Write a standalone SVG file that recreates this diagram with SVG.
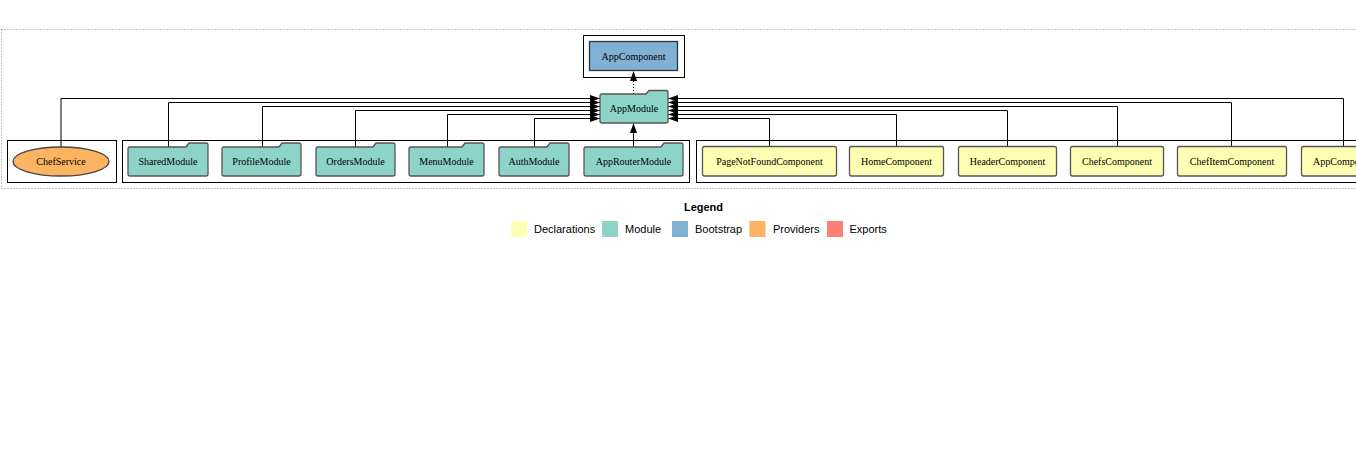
<svg xmlns="http://www.w3.org/2000/svg" width="1356" height="461" viewBox="0 0 1356 461">
<defs>
<style>
.lbl{font-family:"Liberation Serif","Times New Roman",serif;font-size:10px;fill:#000;text-anchor:middle}
.leg{font-family:"Liberation Sans",Arial,sans-serif;font-size:11px;fill:#000}
.cl{fill:none;stroke:#000;stroke-width:1}
.mod{fill:#8dd3c7;stroke:#555;stroke-width:1.3}
.dec{fill:#ffffb3;stroke:#555;stroke-width:1.3}
.edge{fill:none;stroke:#000;stroke-width:1}
</style>
<marker id="arr" markerUnits="userSpaceOnUse" markerWidth="10" markerHeight="7" refX="10" refY="3.5" orient="auto">
<path d="M0,0 L10,3.5 L0,7 Z" fill="#000"/>
</marker>
</defs>
<rect width="1356" height="461" fill="#fff"/>
<rect x="1.5" y="29.5" width="1400" height="159" fill="none" stroke="#888" stroke-width="1" stroke-dasharray="1,2"/>

<g id="clusters">
<rect class="cl" x="7.5" y="140.5" width="109" height="42"/>
<rect class="cl" x="122.5" y="140.5" width="567" height="42"/>
<rect class="cl" x="696.5" y="140.5" width="680" height="42"/>
<rect class="cl" x="583.5" y="35.5" width="101" height="42"/>
</g>

<g id="connectors">
<polyline class="edge" points="61,147 61,98.5 600,98.5" marker-end="url(#arr)"/>
<polyline class="edge" points="168.5,147 168.5,102.5 600,102.5" marker-end="url(#arr)"/>
<polyline class="edge" points="262.5,147 262.5,106.5 600,106.5" marker-end="url(#arr)"/>
<polyline class="edge" points="355.5,147 355.5,110.5 600,110.5" marker-end="url(#arr)"/>
<polyline class="edge" points="447.5,147 447.5,114.5 600,114.5" marker-end="url(#arr)"/>
<polyline class="edge" points="534.5,147 534.5,118.5 600,118.5" marker-end="url(#arr)"/>
<polyline class="edge" points="633.5,147 633.5,123" marker-end="url(#arr)"/>
<polyline class="edge" points="769.5,146 769.5,118.5 668,118.5" marker-end="url(#arr)"/>
<polyline class="edge" points="896.5,146 896.5,114.5 668,114.5" marker-end="url(#arr)"/>
<polyline class="edge" points="1007.5,146 1007.5,110.5 668,110.5" marker-end="url(#arr)"/>
<polyline class="edge" points="1117.5,146 1117.5,106.5 668,106.5" marker-end="url(#arr)"/>
<polyline class="edge" points="1231.5,146 1231.5,102.5 668,102.5" marker-end="url(#arr)"/>
<polyline class="edge" points="1343.5,146 1343.5,98.5 668,98.5" marker-end="url(#arr)"/>
<polyline class="edge" points="633.5,94 633.5,71" stroke-dasharray="1,2" stroke="#999" marker-end="url(#arr)"/>
</g>

<g id="ChefService">
<ellipse cx="61" cy="161.5" rx="48" ry="14.5" fill="#fdb462" stroke="#444" stroke-width="1.3"/>
<text class="lbl" x="61" y="165">ChefService</text>
</g>

<g id="SharedModule">
<path class="mod" d="M128,149 Q128,147 130,147 L186,147 L189,143 L206,143 Q208,143 208,145 L208,174 Q208,176 206,176 L130,176 Q128,176 128,174 Z"/>
<text class="lbl" x="168" y="165">SharedModule</text>
</g>
<g id="ProfileModule">
<path class="mod" d="M222,149 Q222,147 224,147 L279,147 L282,143 L299,143 Q301,143 301,145 L301,174 Q301,176 299,176 L224,176 Q222,176 222,174 Z"/>
<text class="lbl" x="261.5" y="165">ProfileModule</text>
</g>
<g id="OrdersModule">
<path class="mod" d="M316,149 Q316,147 318,147 L373,147 L376,143 L393,143 Q395,143 395,145 L395,174 Q395,176 393,176 L318,176 Q316,176 316,174 Z"/>
<text class="lbl" x="355.5" y="165">OrdersModule</text>
</g>
<g id="MenuModule">
<path class="mod" d="M409,149 Q409,147 411,147 L462,147 L465,143 L482,143 Q484,143 484,145 L484,174 Q484,176 482,176 L411,176 Q409,176 409,174 Z"/>
<text class="lbl" x="446.5" y="165">MenuModule</text>
</g>
<g id="AuthModule">
<path class="mod" d="M499,149 Q499,147 501,147 L547,147 L550,143 L567,143 Q569,143 569,145 L569,174 Q569,176 567,176 L501,176 Q499,176 499,174 Z"/>
<text class="lbl" x="534" y="165">AuthModule</text>
</g>
<g id="AppRouterModule">
<path class="mod" d="M584,149 Q584,147 586,147 L661,147 L664,143 L681,143 Q683,143 683,145 L683,174 Q683,176 681,176 L586,176 Q584,176 584,174 Z"/>
<text class="lbl" x="633.5" y="165">AppRouterModule</text>
</g>

<g id="AppModule">
<path class="mod" d="M600,96 Q600,94 602,94 L646,94 L649,90.5 L666,90.5 Q668,90.5 668,92.5 L668,121 Q668,123 666,123 L602,123 Q600,123 600,121 Z"/>
<text class="lbl" x="634" y="112">AppModule</text>
</g>

<g id="AppComponentBootstrap">
<rect x="589.5" y="41.5" width="88" height="29" fill="#80b1d3" stroke="#333" stroke-width="1.3"/>
<text class="lbl" x="633.5" y="59.5">AppComponent</text>
</g>

<g id="PageNotFoundComponent">
<rect class="dec" x="702.5" y="146.5" width="134" height="29.5" rx="2"/>
<text class="lbl" x="769.5" y="165">PageNotFoundComponent</text>
</g>
<g id="HomeComponent">
<rect class="dec" x="849.5" y="146.5" width="94" height="29.5" rx="2"/>
<text class="lbl" x="896.5" y="165">HomeComponent</text>
</g>
<g id="HeaderComponent">
<rect class="dec" x="958.5" y="146.5" width="98" height="29.5" rx="2"/>
<text class="lbl" x="1007.5" y="165">HeaderComponent</text>
</g>
<g id="ChefsComponent">
<rect class="dec" x="1070.5" y="146.5" width="93" height="29.5" rx="2"/>
<text class="lbl" x="1117" y="165">ChefsComponent</text>
</g>
<g id="ChefItemComponent">
<rect class="dec" x="1177.5" y="146.5" width="109" height="29.5" rx="2"/>
<text class="lbl" x="1232" y="165">ChefItemComponent</text>
</g>
<g id="AppComponent">
<rect class="dec" x="1301.5" y="146.5" width="86" height="29.5" rx="2"/>
<text class="lbl" x="1345" y="165">AppComponent</text>
</g>

<g id="legend">
<text class="leg" x="703.5" y="210.5" text-anchor="middle" font-weight="bold">Legend</text>
<rect x="511" y="221" width="16" height="16" fill="#ffffb3"/>
<text class="leg" x="534" y="233">Declarations</text>
<rect x="602" y="221" width="16" height="16" fill="#8dd3c7"/>
<text class="leg" x="625" y="233">Module</text>
<rect x="672" y="221" width="16" height="16" fill="#80b1d3"/>
<text class="leg" x="695" y="233">Bootstrap</text>
<rect x="749.5" y="221" width="16" height="16" fill="#fdb462"/>
<text class="leg" x="773" y="233">Providers</text>
<rect x="827" y="221" width="16" height="16" fill="#fb8072"/>
<text class="leg" x="849.5" y="233">Exports</text>
</g>
</svg>
